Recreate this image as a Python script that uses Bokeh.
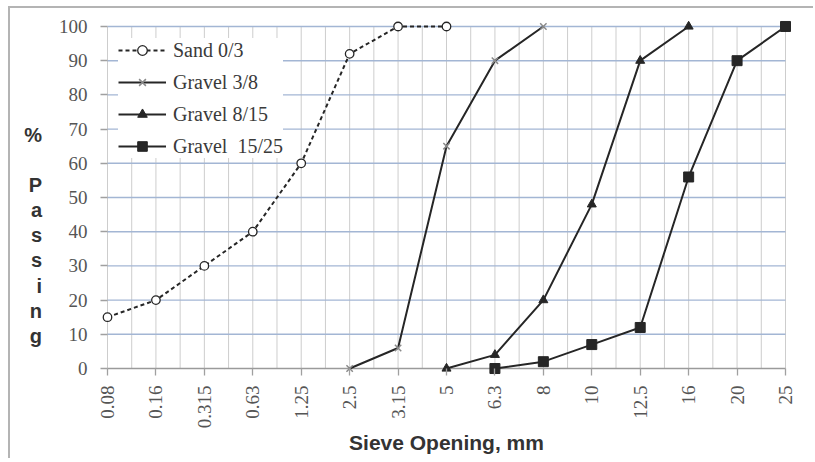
from bokeh.plotting import figure
from bokeh.models import Range1d, FixedTicker
from bokeh.embed import file_html
from bokeh.resources import INLINE

# ---- data ----
sieve_labels = ["0.08", "0.16", "0.315", "0.63", "1.25", "2.5", "3.15", "5",
                "6.3", "8", "10", "12.5", "16", "20", "25"]
y_ticks = [0, 10, 20, 30, 40, 50, 60, 70, 80, 90, 100]

sand_sieves = ["0.08", "0.16", "0.315", "0.63", "1.25", "2.5", "3.15", "5"]
sand_pass = [15, 20, 30, 40, 60, 92, 100, 100]

g38_sieves = ["2.5", "3.15", "5", "6.3", "8"]
g38_pass = [0, 6, 65, 90, 100]

g815_sieves = ["5", "6.3", "8", "10", "12.5", "16"]
g815_pass = [0, 4, 20, 48, 90, 100]

g1525_sieves = ["6.3", "8", "10", "12.5", "16", "20", "25"]
g1525_pass = [0, 2, 7, 12, 56, 90, 100]

y_title = "\n\n\n%\n\nP\na\ns\ns\ni\nn\ng"
x_title = "Sieve Opening, mm"

def xpos(labels):
    return [sieve_labels.index(s) for s in labels]

n = len(sieve_labels) - 1
xpad = 7 / 48.43
ypad = 7 / 3.43

p = figure(width=805, height=452, output_backend="svg", toolbar_location=None,
           x_range=Range1d(-xpad, n + xpad), y_range=Range1d(-ypad, 100 + ypad),
           min_border_left=90, min_border_right=23, min_border_top=11, min_border_bottom=85,
           background_fill_color="white", border_fill_color="white")
p.outline_line_color = None
p.xgrid.visible = False
p.ygrid.visible = False
p.styles = {"border-left": "2px solid #b4b4b4", "border-top": "2px solid #b4b4b4",
            "margin-left": "8px", "margin-top": "6px"}

# vertical grid lines (every half category)
vx = [i * 0.5 for i in range(2 * n + 1)]
p.segment(x0=vx, y0=[0] * len(vx), x1=vx, y1=[100] * len(vx),
          line_color="#cdcdcd", line_width=1)
# horizontal grid lines
hy = y_ticks[1:]
p.segment(x0=[0] * len(hy), y0=hy, x1=[n] * len(hy), y1=hy,
          line_color="#a3b6d4", line_width=1.4)
# zero line
p.segment(x0=[0], y0=[0], x1=[n], y1=[0], line_color="#9a9a9a", line_width=1.4)

lc = "#262626"
# series
p.line(xpos(sand_sieves), sand_pass, line_color=lc, line_width=2, line_dash="4 3",
       legend_label="Sand 0/3")
p.scatter(xpos(sand_sieves), sand_pass, marker="circle", size=8.5, fill_color="white",
          line_color=lc, line_width=1.3, legend_label="Sand 0/3")

p.line(xpos(g38_sieves), g38_pass, line_color=lc, line_width=2, legend_label="Gravel 3/8")
p.scatter(xpos(g38_sieves), g38_pass, marker="x", size=9, line_color="#8a8a8a",
          line_width=1.5, legend_label="Gravel 3/8")

p.line(xpos(g815_sieves), g815_pass, line_color=lc, line_width=2, legend_label="Gravel 8/15")
p.scatter(xpos(g815_sieves), g815_pass, marker="triangle", size=9, fill_color=lc,
          line_color=lc, legend_label="Gravel 8/15")

p.line(xpos(g1525_sieves), g1525_pass, line_color=lc, line_width=2,
       legend_label="Gravel  15/25")
p.scatter(xpos(g1525_sieves), g1525_pass, marker="square", size=10, fill_color=lc,
          line_color=lc, legend_label="Gravel  15/25")

# axes
xa = p.xaxis[0]
xa.ticker = FixedTicker(ticks=list(range(n + 1)), minor_ticks=[])
xa.major_label_overrides = {i: s for i, s in enumerate(sieve_labels)}
xa.major_label_orientation = 3.14159265 / 2
xa.axis_line_color = None
xa.major_tick_in = 7
xa.major_tick_out = 0
xa.major_tick_line_color = "#a0a0a0"
xa.major_tick_line_width = 1.3
xa.minor_tick_line_color = None
xa.major_label_standoff = 10
xa.major_label_text_font = "Liberation Serif"
xa.major_label_text_font_size = "19px"
xa.major_label_text_color = "#555555"
xa.axis_label = x_title
xa.axis_label_text_font = "Liberation Sans"
xa.axis_label_text_font_style = "bold"
xa.axis_label_text_font_size = "21px"
xa.axis_label_text_color = "#333333"
xa.axis_label_standoff = 0

ya = p.yaxis[0]
ya.ticker = FixedTicker(ticks=y_ticks, minor_ticks=[])
ya.axis_line_color = None
ya.major_tick_in = 7
ya.major_tick_out = 0
ya.major_tick_line_color = "#a0a0a0"
ya.major_tick_line_width = 1.3
ya.minor_tick_line_color = None
ya.major_label_standoff = 13
ya.major_label_text_font = "Liberation Serif"
ya.major_label_text_font_size = "19px"
ya.major_label_text_color = "#555555"
ya.axis_label = y_title
ya.axis_label_orientation = "horizontal"
ya.axis_label_text_font = "Liberation Sans"
ya.axis_label_text_font_style = "bold"
ya.axis_label_text_font_size = "20px"
ya.axis_label_text_color = "#333333"
ya.axis_label_text_line_height = 1.143
ya.axis_label_text_align = "center"
ya.axis_label_standoff = 14

# legend
leg = p.legend[0]
leg.location = (18, 217)
leg.padding = 4
leg.spacing = 8
leg.glyph_height = 24
leg.label_height = 24
leg.glyph_width = 48
leg.label_standoff = 7
leg.margin = 0
leg.border_line_color = None
leg.background_fill_color = "white"
leg.background_fill_alpha = 1
leg.label_text_font = "Liberation Serif"
leg.label_text_font_size = "20px"
leg.label_text_color = "#3a3a3a"

open("out.html", "w").write(file_html(p, INLINE))
